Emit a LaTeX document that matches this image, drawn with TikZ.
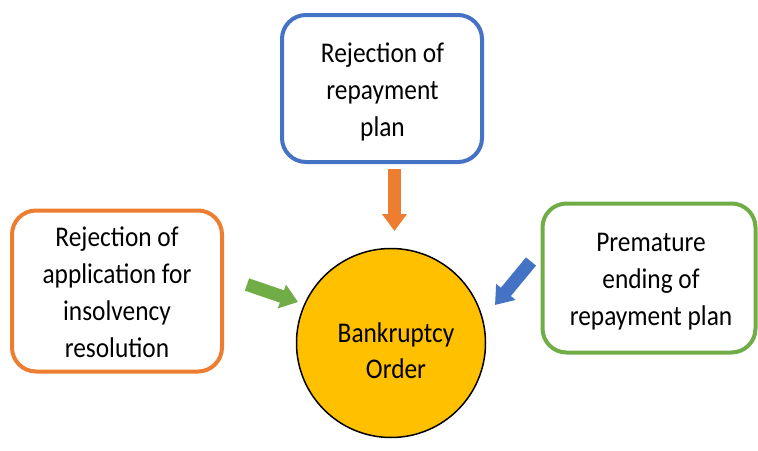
\documentclass[tikz,border=0pt]{standalone}
\usepackage{fontspec}
\setmainfont{Carlito}[FakeStretch=0.89]
\usetikzlibrary{arrows.meta}
\definecolor{boxblue}{HTML}{4472C4}
\definecolor{boxorange}{HTML}{ED7D31}
\definecolor{boxgreen}{HTML}{70AD47}
\definecolor{circfill}{HTML}{FFC000}
\tikzset{
  causebox/.style={draw=#1, line width=4pt, rounded corners=24pt, fill=white, inner sep=0pt},
  boxtext/.style={align=center, inner sep=0pt, font=\fontsize{28.5}{37}\selectfont},
  ordercircle/.style={circle, draw=black, line width=1.5pt, fill=circfill, inner sep=0pt},
  ordertext/.style={align=center, inner sep=0pt, font=\fontsize{28.5}{36}\selectfont},
  blockarrow/.style={line width=13pt, draw=#1,
    -{Triangle[width=24pt,length=17pt,fill=#1]}}
}
\begin{document}
\begin{tikzpicture}[x=1pt,y=-1pt]
\useasboundingbox (0,0) rectangle (758,450);
\node[causebox=boxblue, minimum width=200pt, minimum height=147pt] (top) at (382,88.5) {};
\node[boxtext] (toptxt) at (382.5,92) {Rejection of\\repayment\\plan};
\node[causebox=boxorange, minimum width=210pt, minimum height=161pt] (left) at (117,291) {};
\node[boxtext] (lefttxt) at (117,292) {Rejection of\\application for\\insolvency\\resolution};
\node[causebox=boxgreen, minimum width=213pt, minimum height=149pt] (right) at (649,278) {};
\node[boxtext] (righttxt) at (651,281.5) {Premature\\ending of\\repayment plan};
\node[ordercircle, minimum size=189pt] (order) at (391,343) {};
\node[ordertext] (ordertxt) at (396,351) {Bankruptcy\\Order};
\coordinate (ot) at (394.5,169);
\coordinate (oh) at (394.5,231);
\coordinate (gt) at (247,284.5);
\coordinate (gh) at (298,302);
\coordinate (bt) at (531,261.5);
\coordinate (bh) at (495,305);
\draw[blockarrow=boxorange] (ot) -- (oh);
\draw[blockarrow=boxgreen] (gt) -- (gh);
\draw[blockarrow=boxblue] (bt) -- (bh);
\end{tikzpicture}
\end{document}
